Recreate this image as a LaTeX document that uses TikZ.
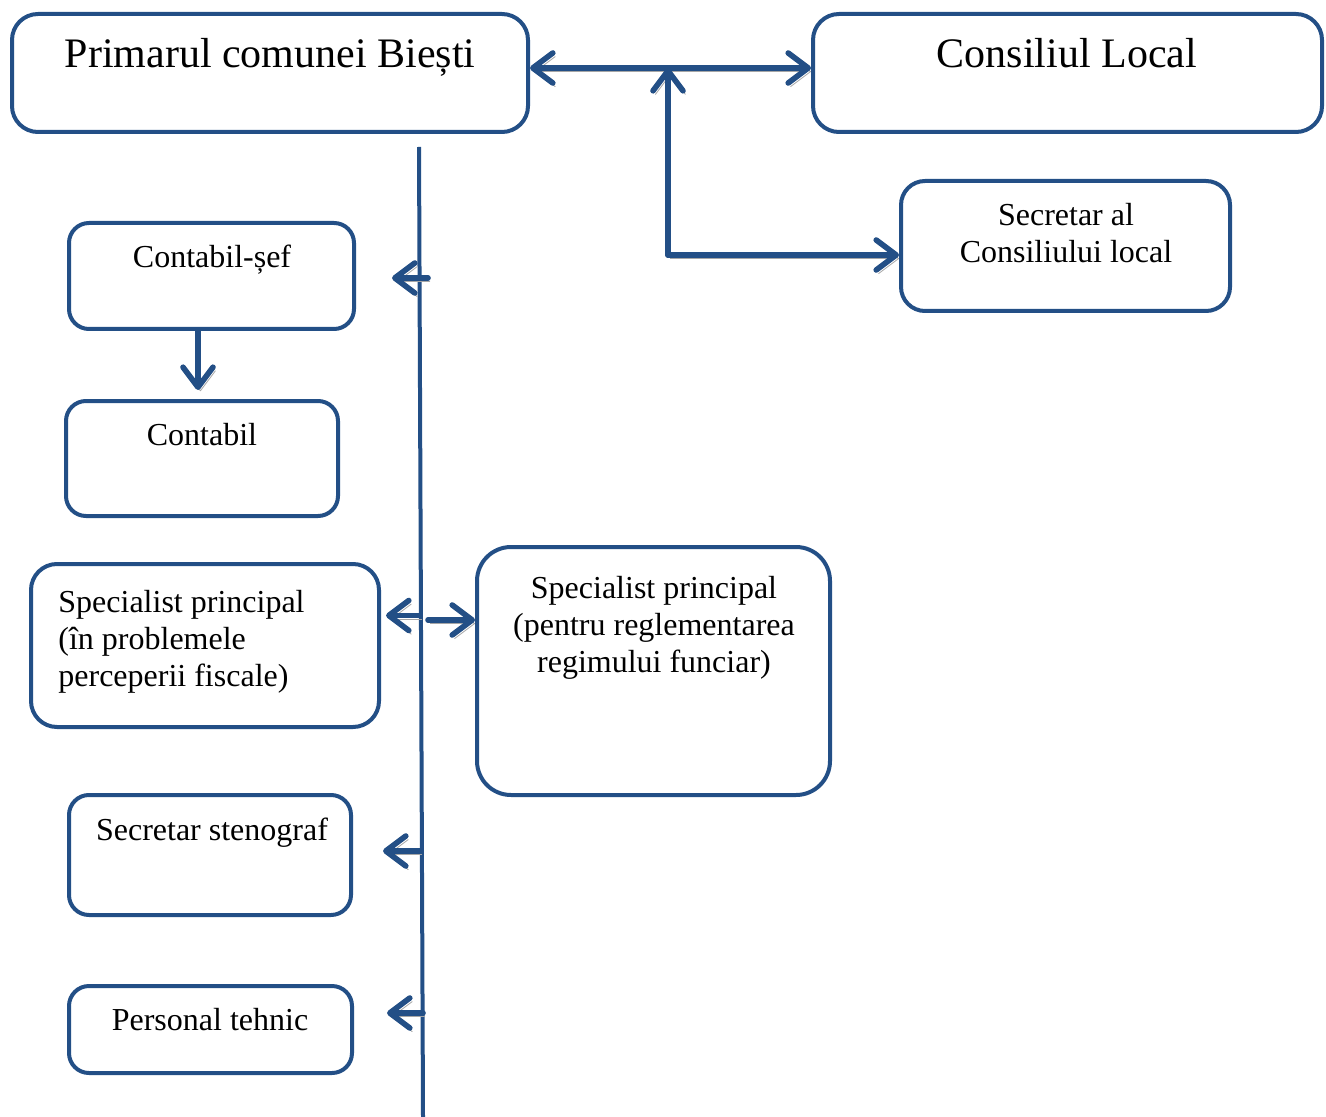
\documentclass[tikz,border=0pt]{standalone}
\usepackage{fontspec}
\setmainfont{Liberation Serif}
\usetikzlibrary{arrows.meta,calc}
\definecolor{orgblue}{RGB}{35,79,134}
\begin{document}
\begin{tikzpicture}[x=0.5pt,y=-0.5pt,
    box/.style={draw=orgblue,line width=2pt,rounded corners=10pt,inner sep=0pt,anchor=north west},
    txt/.style={inner sep=0pt,font=\fontsize{16pt}{18.5pt}\selectfont,align=center},
    bigtxt/.style={inner sep=0pt,font=\fontsize{21pt}{25pt}\selectfont},
    link/.style={draw=orgblue,line width=2.8pt,line cap=round,
      preaction={draw=black!35,transform canvas={xshift=1.2pt,yshift=-1.8pt}}},
    >={Straight Barb[length=10pt,width=15pt,line cap=round,line join=round]}]
  \useasboundingbox (0,0) rectangle (1326,1117);
  \node[box,minimum width=258pt,minimum height=59pt,rounded corners=13pt] (pr) at (10,12) {};
  \node[box,minimum width=254.5pt,minimum height=59pt,rounded corners=13pt] (cl) at (811,12) {};
  \node[box,minimum width=164.5pt,minimum height=65pt,rounded corners=12pt] (scl) at (899,179) {};
  \node[box,minimum width=142.5pt,minimum height=53pt] (csef) at (67,221) {};
  \node[box,minimum width=136pt,minimum height=57.5pt] (cont) at (64,399) {};
  \node[box,minimum width=174pt,minimum height=81.5pt,rounded corners=13pt] (spf) at (29,562) {};
  \node[box,minimum width=176.5pt,minimum height=124pt,rounded corners=17pt] (spr) at (475,545) {};
  \node[box,minimum width=141pt,minimum height=60pt] (sten) at (67,793) {};
  \node[box,minimum width=141.5pt,minimum height=43.5pt] (pt) at (67,984) {};

  \node[bigtxt,anchor=base] (tpr) at (270,68) {Primarul comunei Biești};
  \node[bigtxt,anchor=base] (tcl) at (1067,68) {Consiliul Local};
  \node[txt,anchor=north] (tscl) at (1066,203) {Secretar al\\Consiliului local};
  \node[txt,anchor=base] (tcsef) at (212,268) {Contabil-șef};
  \node[txt,anchor=base] (tcont) at (202,445) {Contabil};
  \node[txt,anchor=north west,align=left] (tspf) at (58,590) {Specialist principal\\(în problemele\\perceperii fiscale)};
  \node[txt,anchor=north] (tspr) at (654,576) {Specialist principal\\(pentru reglementarea\\regimului funciar)};
  \node[txt,anchor=base] (tsten) at (212,840) {Secretar stenograf};
  \node[txt,anchor=base] (tpt) at (210,1030) {Personal tehnic};

  \coordinate (knee) at (668,255);
  \coordinate (hub) at (668,68);
  \coordinate (top) at (419,147);
  \coordinate (bot) at (423,1117);
  \coordinate (cs) at ($(csef.south)+(-13.5,0)$);

  \draw[orgblue,line width=2pt] (top) -- (bot);
  \draw[link,<->] ([yshift=2.5pt]pr.east) -- ([yshift=2.5pt]cl.west);
  \draw[link,->] (knee) -- (hub);
  \draw[link,->] (knee) -- (knee -| scl.west);
  \draw[link,->,shorten >=4.5pt] (cs) -- (cs |- cont.north);
  \draw[link,->,shorten >=18pt] ($(top |- csef.east)+(9,2)$) -- ($(csef.east)+(0,2)$);
  \draw[link,->,shorten >=2.5pt] ($(top |- spf.east)+(1,-30)$) -- ($(spf.east)+(0,-30)$);
  \draw[link,->] ($(top |- spr.west)+(9,-51)$) -- ($(spr.west)+(0,-51)$);
  \draw[link,->,shorten >=15pt] ($(top |- sten.east)+(1,-4)$) -- ($(sten.east)+(0,-4)$);
  \draw[link,->,shorten >=16.5pt] ($(top |- pt.east)+(4,-16.5)$) -- ($(pt.east)+(0,-16.5)$);
\end{tikzpicture}
\end{document}
